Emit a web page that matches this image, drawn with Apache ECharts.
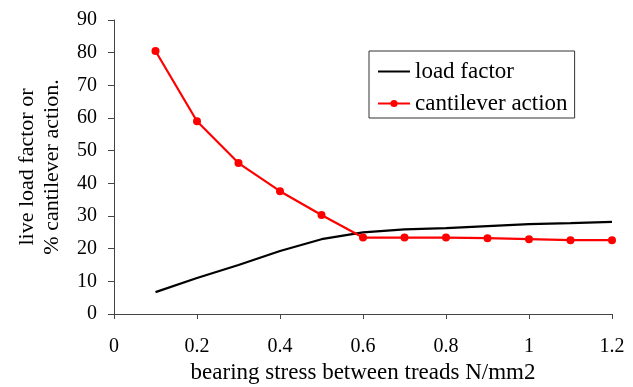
<!DOCTYPE html>
<html>
<head>
<meta charset="utf-8">
<script src="https://cdn.jsdelivr.net/npm/echarts@6/dist/echarts.min.js"></script>
<style>
  html, body { margin: 0; padding: 0; background: #fff; }
  #chart { width: 633px; height: 387px; }
</style>
</head>
<body>
<div id="chart"></div>
<script>
// bearing stress values (N/mm2)
const stress = [0.1, 0.2, 0.3, 0.4, 0.5, 0.6, 0.7, 0.8, 0.9, 1.0, 1.1, 1.2];
// live load factor
const loadFactor = [6.7, 11.0, 15.0, 19.3, 22.9, 25.0, 25.9, 26.3, 26.9, 27.5, 27.8, 28.2];
// % cantilever action
const cantilever = [80.5, 59.0, 46.2, 37.6, 30.3, 23.4, 23.4, 23.4, 23.2, 22.9, 22.6, 22.6];

const pairs = (xs, ys) => xs.map((x, i) => [x, ys[i]]);

const font = 'Liberation Serif';
const axisCol = '#444';

const myChart = echarts.init(document.getElementById('chart'));
const option = {
  animation: false,
  backgroundColor: '#fff',
  grid: { left: 114, right: 21, top: 20, bottom: 73, outerBoundsMode: 'none' },
  legend: {
    orient: 'vertical',
    left: 369,
    top: 51,
    padding: [9, 7, 3, 8],
    itemGap: 9,
    itemWidth: 32,
    itemHeight: 9,
    borderColor: '#333',
    borderWidth: 1,
    textStyle: { fontFamily: font, fontSize: 23, color: '#000' },
    data: [
      { name: 'load factor', itemStyle: { opacity: 0 } },
      { name: 'cantilever action' }
    ]
  },
  xAxis: {
    type: 'value',
    min: 0, max: 1.2, interval: 0.2,
    name: 'bearing stress between treads N/mm2',
    nameLocation: 'middle',
    nameGap: 47,
    nameTextStyle: { fontFamily: font, fontSize: 23, color: '#000' },
    axisLine: { show: true, lineStyle: { color: axisCol, width: 1 } },
    axisTick: { show: true, length: 5, lineStyle: { color: axisCol } },
    axisLabel: { fontFamily: font, fontSize: 20, color: '#000', margin: 23 },
    splitLine: { show: false }
  },
  yAxis: {
    type: 'value',
    min: 0, max: 90, interval: 10,
    name: 'live load factor or\n% cantilever action.',
    nameLocation: 'middle',
    nameGap: 49,
    nameTextStyle: { fontFamily: font, fontSize: 22, color: '#000', lineHeight: 25 },
    axisLine: { show: true, lineStyle: { color: axisCol, width: 1 } },
    axisTick: { show: true, length: 6, lineStyle: { color: axisCol } },
    axisLabel: { fontFamily: font, fontSize: 20, color: '#000', margin: 17 },
    splitLine: { show: false }
  },
  series: [
    {
      name: 'load factor',
      type: 'line',
      data: pairs(stress, loadFactor),
      symbol: 'none',
      lineStyle: { color: '#000', width: 2.2 },
      itemStyle: { color: '#000' }
    },
    {
      name: 'cantilever action',
      type: 'line',
      data: pairs(stress, cantilever),
      symbol: 'circle',
      symbolSize: 8,
      lineStyle: { color: '#ff0000', width: 2.2 },
      itemStyle: { color: '#ff0000' }
    }
  ]
};
myChart.setOption(option);
</script>
</body>
</html>
